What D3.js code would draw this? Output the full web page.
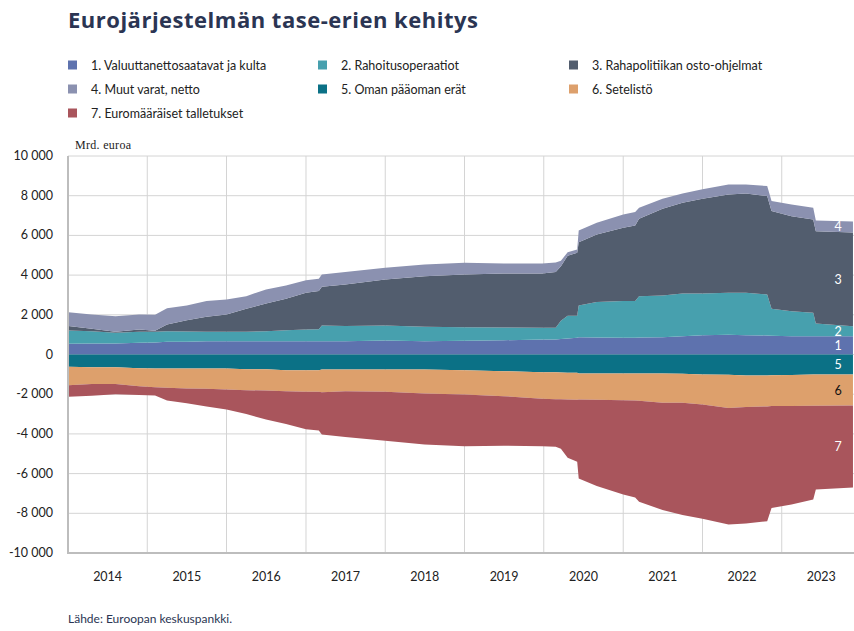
<!DOCTYPE html>
<html>
<head>
<meta charset="utf-8">
<script src="https://cdn.jsdelivr.net/npm/d3@7"></script>
<style>
  body { margin: 0; background: #fff; }
  svg { display: block; font-family: Lato, "Open Sans", sans-serif; }
</style>
</head>
<body>
<svg id="chart"></svg>
<script>
// dates of the read points
var dates = ["2014-01-03","2014-04-20","2014-08-08","2014-11-25","2015-02-06","2015-04-02","2015-07-02","2015-10-01",
  "2016-01-01","2016-04-01","2016-07-01","2016-10-01","2017-01-01","2017-03-01","2017-03-15","2017-07-01",
  "2018-01-01","2018-07-01","2019-01-01","2019-07-01","2019-12-25","2020-02-25","2020-03-20","2020-04-20",
  "2020-06-03","2020-06-10","2020-09-01","2021-01-01","2021-02-25","2021-03-15","2021-07-01","2021-10-01",
  "2022-01-01","2022-05-01","2022-07-20","2022-10-26","2022-11-15","2023-02-15","2023-05-26","2023-06-07","2023-11-25"];

// Mrd. euroa, one value per date
var s1 = [540,555,555,590,600,640,640,670,670,670,670,670,670,670,670,670,705,670,690,720,755,760,780,810,840,870,860,840,850,860,870,920,975,990,975,960,950,920,920,920,920];
var s2 = [670,620,540,555,540,535,520,475,475,475,505,555,590,600,790,760,755,725,685,640,590,590,920,1140,1110,1600,1780,1850,1850,2080,2105,2155,2100,2120,2135,2065,1355,1265,1180,640,505];
var s3 = [220,120,50,115,60,335,570,755,870,1155,1395,1585,1850,1930,1950,2100,2320,2550,2655,2720,2735,2800,2750,3030,3175,3190,3410,3695,3800,3900,4370,4570,4775,4955,5005,4955,4920,4785,4705,4655,4725];
var s4 = [700,720,785,755,800,825,740,790,755,640,705,670,635,620,620,620,590,590,590,510,510,490,270,170,165,590,585,670,675,550,505,470,470,505,455,505,505,590,585,535,550];
var s5 = [-620,-640,-640,-690,-700,-710,-710,-710,-710,-740,-740,-790,-790,-790,-760,-755,-755,-755,-790,-840,-890,-900,-910,-920,-925,-960,-960,-960,-960,-960,-960,-975,-1010,-1020,-1060,-1060,-1050,-1030,-1010,-1010,-1010];
var s6 = [-925,-840,-840,-910,-950,-970,-1000,-1020,-1055,-1060,-1075,-1060,-1090,-1090,-1140,-1095,-1125,-1210,-1225,-1260,-1345,-1350,-1350,-1350,-1355,-1310,-1320,-1340,-1360,-1370,-1475,-1460,-1510,-1670,-1580,-1560,-1550,-1570,-1570,-1570,-1560];
var s7 = [-585,-600,-520,-440,-410,-640,-740,-890,-1005,-1200,-1460,-1650,-1880,-1950,-2130,-2300,-2470,-2570,-2605,-2500,-2385,-2400,-2490,-2930,-3120,-3980,-4340,-4755,-4880,-5090,-5395,-5645,-5760,-5880,-5880,-5780,-5130,-4960,-4720,-4220,-4130];

var seriesNames = ["1. Valuuttanettosaatavat ja kulta", "2. Rahoitusoperaatiot", "3. Rahapolitiikan osto-ohjelmat",
  "4. Muut varat, netto", "5. Oman pääoman erät", "6. Setelistö", "7. Euromääräiset talletukset"];
var colors = ["#5e72ae", "#47a0ae", "#525d6e", "#8b91b0", "#0b7186", "#dda06c", "#a9555c"];
var labelColors = ["#fff", "#fff", "#fff", "#fff", "#fff", "#111", "#fff"];
var yTicks = [-10000, -8000, -6000, -4000, -2000, 0, 2000, 4000, 6000, 8000, 10000];
var years = [2014, 2015, 2016, 2017, 2018, 2019, 2020, 2021, 2022, 2023];

var width = 854, height = 631;
var margin = { top: 156, left: 68, bottom: 78 };
var plotRight = 861;

var svg = d3.select("#chart").attr("width", width).attr("height", height);

var parse = d3.timeParse("%Y-%m-%d");
var all = [s1, s2, s3, s4, s5, s6, s7];
var keys = d3.range(7);
var rows = dates.map((d, i) => {
  var r = { date: parse(d) };
  keys.forEach(k => r[k] = all[k][i]);
  return r;
});

var x = d3.scaleTime()
  .domain([new Date(2014, 0, 1), new Date(2024, 0, 1)])
  .range([margin.left, plotRight]);
var y = d3.scaleLinear()
  .domain([-10000, 10000])
  .range([height - margin.bottom, margin.top]);

var loc = d3.formatLocale({ decimal: ",", thousands: "\u00a0", grouping: [3], currency: ["", "€"], minus: "-" });
var fmt = loc.format(",d");

// title
svg.append("text")
  .attr("x", 68).attr("y", 28)
  .attr("fill", "#2b3553")
  .style("font-family", "'Open Sans', sans-serif")
  .style("font-size", "22px").style("font-weight", 700)
  .style("letter-spacing", "0.5px")
  .text("Eurojärjestelmän tase-erien kehitys");

// legend
var legendPos = [[68, 65], [318, 65], [569, 65], [68, 89], [318, 89], [569, 89], [68, 113]];
var legend = svg.append("g").selectAll("g")
  .data(keys).enter().append("g")
  .attr("transform", k => `translate(${legendPos[k][0]},${legendPos[k][1]})`);
legend.append("rect")
  .attr("x", 0).attr("y", -4.5).attr("width", 9).attr("height", 9)
  .attr("fill", k => colors[k]);
legend.append("text")
  .attr("x", 23).attr("y", 4.5)
  .attr("fill", "#222")
  .style("font-size", "12.5px")
  .text(k => seriesNames[k]);

// grid
var grid = svg.append("g");
grid.selectAll(".hg").data(yTicks).enter().append("line")
  .attr("x1", margin.left).attr("x2", plotRight)
  .attr("y1", d => y(d)).attr("y2", d => y(d))
  .attr("stroke", "#d4d4d4").attr("stroke-width", 1);
grid.selectAll(".vg").data(years.slice(1)).enter().append("line")
  .attr("x1", d => x(new Date(d, 0, 1))).attr("x2", d => x(new Date(d, 0, 1)))
  .attr("y1", y(10000)).attr("y2", y(-10000))
  .attr("stroke", "#d4d4d4").attr("stroke-width", 1);

// stacked areas
var stack = d3.stack().keys(keys).offset(d3.stackOffsetDiverging);
var layers = stack(rows);
var area = d3.area()
  .x(d => x(d.data.date))
  .y0(d => y(d[0]))
  .y1(d => y(d[1]));

svg.append("g").selectAll("path")
  .data(layers).enter().append("path")
  .attr("d", area)
  .attr("fill", d => colors[d.key]);

// labels at right end
svg.append("g").selectAll("text")
  .data(layers).enter().append("text")
  .attr("x", 838)
  .attr("y", d => y((d[d.length - 1][0] + d[d.length - 1][1]) / 2) + 4.5)
  .attr("text-anchor", "middle")
  .attr("fill", d => labelColors[d.key])
  .style("font-size", "12.5px")
  .text(d => d.key + 1);

// axes lines
svg.append("line")
  .attr("x1", margin.left).attr("x2", margin.left)
  .attr("y1", y(10000)).attr("y2", y(-10000) + 1)
  .attr("stroke", "#bdbdbd").attr("stroke-width", 2);
svg.append("line")
  .attr("x1", margin.left - 1).attr("x2", plotRight)
  .attr("y1", y(-10000)).attr("y2", y(-10000))
  .attr("stroke", "#bdbdbd").attr("stroke-width", 2);

// y tick labels
svg.append("g").selectAll("text")
  .data(yTicks).enter().append("text")
  .attr("x", 53).attr("y", d => y(d) + 4)
  .attr("text-anchor", "end")
  .attr("fill", "#222")
  .style("font-size", "12.5px")
  .text(d => fmt(d));

// x labels centred in each year
svg.append("g").selectAll("text")
  .data(years).enter().append("text")
  .attr("x", d => (x(new Date(d, 0, 1)) + x(new Date(d + 1, 0, 1))) / 2)
  .attr("y", 581)
  .attr("text-anchor", "middle")
  .attr("fill", "#222")
  .style("font-size", "12.5px")
  .text(d => d);

svg.append("text")
  .attr("x", 75).attr("y", 149)
  .attr("fill", "#222")
  .style("font-family", "'Liberation Serif', serif")
  .style("font-size", "12px")
  .style("letter-spacing", "0.3px")
  .text("Mrd. euroa");

svg.append("text")
  .attr("x", 68).attr("y", 623)
  .attr("fill", "#2b3553")
  .style("font-size", "12px")
  .text("Lähde: Euroopan keskuspankki.");
</script>
</body>
</html>
